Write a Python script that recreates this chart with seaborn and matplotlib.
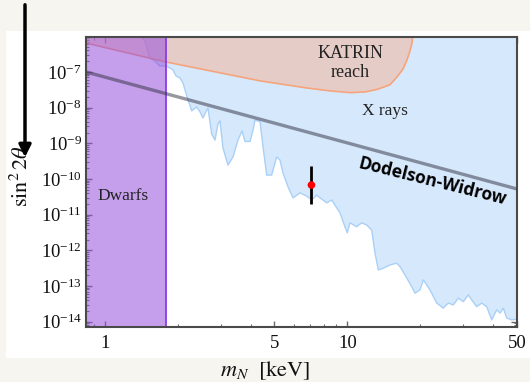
import numpy as np
import pandas as pd
import matplotlib
matplotlib.use("Agg")
import matplotlib.pyplot as plt
from matplotlib.patches import Rectangle, FancyArrowPatch
from matplotlib.ticker import LogLocator, FixedLocator, FixedFormatter, LogFormatterMathtext, NullFormatter
import seaborn as sns

# ---------------- data ----------------
# X-ray exclusion boundary (mass in keV, log10 sin^2 2theta)
xray_m = [1.40, 1.417, 1.462, 1.509, 1.533, 1.608, 1.686, 1.785, 1.819, 1.907, 1.963,
          2.039, 2.097, 2.173, 2.278, 2.388, 2.465, 2.536, 2.627, 2.659, 2.754,
          2.842, 2.924, 2.980, 3.066, 3.215, 3.372, 3.536, 3.673, 3.780, 3.963,
          4.077, 4.156, 4.357, 4.482, 4.643, 4.868, 5.105, 5.267, 5.420, 5.684,
          5.961, 6.37, 6.79, 7.12, 7.46, 7.70, 8.21, 8.61, 9.03, 9.31,
          9.76, 9.98, 10.24, 10.91, 11.44, 12.0, 12.58, 12.98, 13.40, 14.05,
          14.97, 15.96, 16.47, 17.26, 18.40, 18.98, 19.91, 20.54, 21.21, 21.89,
          23.33, 24.83, 26.05, 27.32, 28.64, 30.03, 31.49, 32.53, 34.11, 35.77,
          37.5, 39.33, 41.24, 42.56, 43.91, 45.35, 47.55, 50.0]
xray_exp = [-5.9, -6.02, -6.14, -6.47, -6.61, -6.70, -6.84, -6.83, -6.86, -6.94, -7.11,
            -7.17, -7.31, -7.67, -8.09, -7.98, -8.12, -8.29, -8.07, -8.01, -8.74,
            -8.91, -8.46, -8.37, -9.13, -9.61, -9.38, -8.91, -8.65, -8.95, -8.95,
            -8.63, -8.35, -8.39, -9.09, -9.89, -9.89, -9.38, -9.47, -9.83, -10.22,
            -10.53, -10.39, -10.48, -10.59, -10.45, -10.53, -10.67, -10.59, -10.81, -10.95,
            -11.34, -11.51, -11.23, -11.34, -11.23, -11.29, -11.43, -12.07, -12.55, -12.50,
            -12.41, -12.36, -12.46, -12.69, -13.02, -13.20, -13.11, -12.83, -12.97, -13.11,
            -13.48, -13.62, -13.48, -13.53, -13.34, -13.44, -13.25, -13.39, -13.58, -13.48,
            -13.58, -13.95, -13.67, -13.76, -13.62, -13.90, -13.95, -13.93]

# KATRIN reach boundary
katrin_m = [0.80, 0.835, 1.785, 4.36, 6.81, 8.47, 10.24, 11.81, 13.23, 14.97,
            16.0, 16.94, 17.6, 18.10, 18.45, 18.63]
katrin_exp = [-6.17, -6.19, -6.72, -7.25, -7.45, -7.53, -7.58, -7.56, -7.49, -7.36,
              -7.14, -6.92, -6.66, -6.41, -6.19, -5.9]

# Dwarfs bound (mass in keV)
dwarf_m = [0.80, 1.785]

# Dodelson-Widrow line
dw_m = [0.835, 50.0]
dw_exp = [-7.0, -10.28]

# 3.5 keV line point with error bar
pt_m = [7.1]
pt_exp = [-10.17]
pt_lo_exp = [-10.70]
pt_hi_exp = [-9.65]

xtick_vals = [1, 5, 10, 50]
xtick_labels = ["1", "5", "10", "50"]
ytick_exps = [-14, -13, -12, -11, -10, -9, -8, -7]

xray_s = [10.0 ** e for e in xray_exp]
katrin_s = [10.0 ** e for e in katrin_exp]
dw_s = [10.0 ** e for e in dw_exp]

# ---------------- style ----------------
sns.set_theme(style="ticks")
plt.rcParams["font.family"] = ["Liberation Serif", "DejaVu Serif"]
plt.rcParams["mathtext.fontset"] = "stix"

W, H = 530, 382
fig = plt.figure(figsize=(W / 100, H / 100), dpi=100)
fig.patch.set_facecolor("#f7f5f0")
fig.patches.append(Rectangle((6 / W, 1 - 358 / H), 1 - 6 / W, (358 - 31) / H,
                             transform=fig.transFigure, facecolor="white",
                             edgecolor="none", zorder=-5))

ax = fig.add_axes([86 / W, 1 - 327 / H, (517 - 86) / W, (327 - 37) / H])
ax.set_zorder(1)
ax.set_xscale("log")
ax.set_yscale("log")
ax.set_xlim(0.835, 50.0)
ax.set_ylim(10 ** -14.15, 10 ** -6.02)
ax.set_facecolor("white")

top = 10 ** -5.9
# X-ray region
ax.fill_between(xray_m, xray_s, top, facecolor="#d6e8fc", edgecolor="none", zorder=1)
sns.lineplot(x=xray_m, y=xray_s, ax=ax, color="#a9d0f6", lw=1.0, zorder=1.5,
             sort=False, estimator=None)

# KATRIN region
ax.fill_between(katrin_m, katrin_s, top, facecolor="#f6b294", alpha=0.5,
                edgecolor="none", zorder=2)
sns.lineplot(x=katrin_m, y=katrin_s, ax=ax, color="#f6a47c", lw=1.2, zorder=2.5,
             sort=False, estimator=None)

# Dwarfs region
ax.axvspan(dwarf_m[0], dwarf_m[1], facecolor=(150 / 255, 80 / 255, 220 / 255),
           alpha=0.55, edgecolor="none", zorder=3)
ax.axvline(dwarf_m[1], color="#8a3be6", lw=1.3, zorder=3.5)

# Dodelson-Widrow line
sns.lineplot(x=dw_m, y=dw_s, ax=ax, color="#303040", alpha=0.5, lw=2.4, zorder=4,
             estimator=None)

# Point with error bar
ax.vlines(pt_m, [10 ** e for e in pt_lo_exp], [10 ** e for e in pt_hi_exp],
          color="black", lw=2.0, zorder=5)
sns.scatterplot(x=pt_m, y=[10 ** e for e in pt_exp], ax=ax, color="red", s=30,
                edgecolor="none", zorder=6)

# Texts
ax.text(10.24, 10 ** -6.75, "KATRIN\nreach", ha="center", va="center", fontsize=13,
        linespacing=1.1, color="#222222", zorder=7)
ax.text(14.28, 10 ** -8.09, "X rays", ha="center", va="center", fontsize=12.5,
        color="#222222", zorder=7)
ax.text(1.186, 10 ** -10.48, "Dwarfs", ha="center", va="center", fontsize=12.5,
        color="#222222", zorder=7)
ax.text(22.5, 10 ** -10.06, "Dodelson-Widrow", ha="center", va="center",
        fontsize=12.5, fontweight="bold", family=["Open Sans", "DejaVu Sans"],
        rotation=-14, rotation_mode="anchor", color="black", zorder=7)

# Axes/ticks
for sp in ax.spines.values():
    sp.set_visible(True)
    sp.set_color("#4a4a4a")
    sp.set_linewidth(1.5)
    sp.set_zorder(8)

ax.xaxis.set_major_locator(FixedLocator(xtick_vals))
ax.xaxis.set_major_formatter(FixedFormatter(xtick_labels))
ax.xaxis.set_minor_locator(LogLocator(base=10, subs=np.arange(2, 10), numticks=20))
ax.xaxis.set_minor_formatter(NullFormatter())
ax.yaxis.set_major_locator(FixedLocator([10.0 ** e for e in ytick_exps]))
ax.yaxis.set_major_formatter(LogFormatterMathtext())
ax.yaxis.set_minor_locator(LogLocator(base=10, subs=np.arange(2, 10), numticks=30))
ax.yaxis.set_minor_formatter(NullFormatter())

ax.tick_params(which="both", direction="in", top=True, right=True, color="#6a6a6a")
ax.tick_params(which="major", length=4, width=1.0)
ax.tick_params(which="minor", length=2.5, width=0.8)
ax.tick_params(axis="x", which="major", labelsize=13.5, pad=6, labelcolor="#111111")
ax.tick_params(axis="y", which="major", labelsize=13.5, pad=3, labelcolor="#111111")
ax.set_xlabel("")
ax.set_ylabel("")

fig.text(265 / W, 1 - 371 / H, r"$m_N\ \ [\mathrm{keV}]$", ha="center", va="center",
         fontsize=16, color="#111111")
fig.text(22 / W, 1 - 176 / H, r"$\sin^2 2\theta$", ha="center", va="center",
         rotation=90, fontsize=16, color="#111111")

arrow = FancyArrowPatch((25 / W, 1 - 2 / H), (25 / W, 1 - 160 / H),
                        transform=fig.transFigure, arrowstyle="-|>",
                        mutation_scale=18, lw=2.5, color="black", zorder=10)
fig.patches.append(arrow)

fig.savefig("out.png", dpi=100, facecolor=fig.get_facecolor())
